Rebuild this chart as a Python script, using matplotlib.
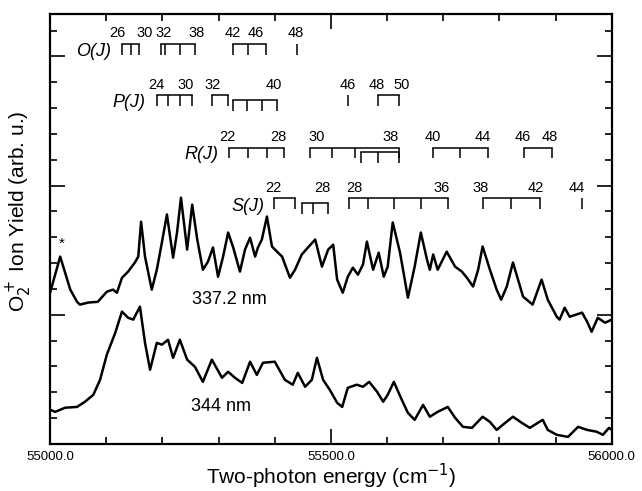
import matplotlib.pyplot as plt
from matplotlib.ticker import MultipleLocator

plt.rcParams['font.family'] = ['Liberation Sans', 'DejaVu Sans']

# O2+ ion yield, 337.2 nm excitation (energy cm^-1, yield arb. u.)
e_337 = [55000, 55018, 55036, 55048, 55053, 55068, 55085, 55101, 55112, 55119,
         55128, 55139, 55151, 55157, 55162, 55169, 55181, 55190, 55199, 55208,
         55219, 55226, 55233, 55244, 55253, 55262, 55272, 55281, 55290, 55299,
         55308, 55317, 55326, 55338, 55347, 55356, 55365, 55370, 55377, 55386,
         55395, 55404, 55413, 55427, 55436, 55448, 55459, 55472, 55484, 55495,
         55504, 55511, 55521, 55530, 55539, 55548, 55557, 55564, 55575, 55585,
         55594, 55601, 55610, 55623, 55637, 55649, 55660, 55671, 55676, 55682,
         55690, 55706, 55721, 55733, 55742, 55753, 55762, 55770, 55783, 55795,
         55803, 55813, 55824, 55833, 55842, 55859, 55875, 55886, 55902, 55907,
         55916, 55925, 55947, 55956, 55964, 55975, 55988, 56000]
y_337 = [5.85, 7.25, 5.97, 5.50, 5.39, 5.47, 5.50, 5.89, 5.97, 5.85,
         6.43, 6.67, 7.02, 7.25, 8.60, 7.25, 5.97, 6.74, 7.79, 8.88,
         7.21, 8.18, 9.53, 7.52, 9.26, 7.91, 6.74, 7.05, 7.60, 6.47,
         7.25, 8.18, 7.60, 6.67, 7.52, 7.98, 7.25, 7.60, 7.91, 8.80,
         7.64, 7.44, 7.25, 6.43, 6.74, 7.33, 7.60, 7.91, 6.86, 7.52,
         7.71, 6.36, 5.85, 6.47, 6.82, 6.55, 6.94, 7.83, 6.74, 7.40,
         6.47, 6.86, 8.57, 7.40, 5.66, 6.86, 8.18, 7.13, 6.74, 7.33,
         6.74, 7.44, 6.86, 6.67, 6.43, 6.09, 6.74, 7.64, 6.74, 5.97,
         5.58, 6.09, 7.02, 6.36, 5.70, 5.39, 6.36, 5.58, 4.92, 4.81,
         5.27, 4.92, 5.08, 4.73, 4.34, 4.88, 4.69, 4.81]

# O2+ ion yield, 344 nm excitation
e_344 = [55000, 55009, 55027, 55048, 55062, 55077, 55089, 55101, 55116, 55128,
         55139, 55148, 55160, 55169, 55178, 55190, 55199, 55210, 55219, 55231,
         55244, 55258, 55272, 55288, 55306, 55317, 55329, 55342, 55356, 55368,
         55379, 55400, 55418, 55432, 55441, 55454, 55466, 55475, 55486, 55498,
         55511, 55520, 55530, 55546, 55557, 55568, 55582, 55593, 55601, 55612,
         55626, 55637, 55649, 55664, 55676, 55690, 55708, 55721, 55735, 55751,
         55770, 55783, 55795, 55810, 55824, 55840, 55854, 55877, 55886, 55902,
         55922, 55940, 55956, 55973, 55984, 55995, 56000]
y_344 = [1.32, 1.24, 1.40, 1.43, 1.63, 1.90, 2.48, 3.45, 4.30, 5.12,
         4.88, 4.81, 5.31, 3.91, 2.87, 3.91, 3.84, 4.03, 3.33, 4.03,
         3.26, 2.98, 2.40, 3.26, 2.56, 2.79, 2.56, 2.36, 3.18, 2.67,
         3.14, 3.18, 2.48, 2.29, 2.75, 2.21, 2.48, 3.33, 2.48, 2.09,
         1.59, 1.43, 2.17, 2.29, 2.21, 2.40, 2.02, 1.63, 1.90, 2.40,
         1.71, 1.20, 0.93, 1.51, 1.05, 1.24, 1.43, 1.01, 0.66, 0.62,
         1.05, 0.85, 0.54, 0.81, 1.05, 0.81, 0.62, 0.93, 0.54, 0.35,
         0.27, 0.66, 0.54, 0.47, 0.35, 0.62, 0.54]

# rotational assignments: groups of line positions (cm^-1), sub = drawn lower
O_groups = [[55128, 55144, 55158], [55197, 55205, 55231, 55258],
            [55326, 55352, 55384], [55439]]
O_sub = []
O_labels = [('26', 55119), ('30', 55169), ('32', 55202), ('38', 55260),
            ('42', 55325), ('46', 55367), ('48', 55438)]

P_groups = [[55190, 55210, 55231, 55253], [55288, 55317], [55530], [55584, 55621]]
P_sub = [[55326, 55350, 55377, 55404]]
P_labels = [('24', 55190), ('30', 55242), ('32', 55290), ('40', 55398),
            ('46', 55530), ('48', 55582), ('50', 55626)]

R_groups = [[55318, 55352, 55386, 55416], [55463, 55502, 55543, 55621],
            [55681, 55729, 55779], [55843, 55893]]
R_sub = [[55553, 55584, 55621]]
R_labels = [('22', 55315), ('28', 55406), ('30', 55475), ('38', 55606),
            ('40', 55681), ('44', 55770), ('46', 55842), ('48', 55890)]

S_groups = [[55399, 55436], [55532, 55566, 55612, 55660, 55708],
            [55770, 55820, 55873], [55947]]
S_sub = [[55448, 55468, 55495]]
S_labels = [('22', 55397), ('28', 55485), ('28', 55541), ('36', 55697),
            ('38', 55767), ('42', 55865), ('44', 55938)]

rows = [('O(J)', 55078, 15.2, 15.47, O_groups, O_sub, O_labels),
        ('P(J)', 55141, 13.2, 13.49, P_groups, P_sub, P_labels),
        ('R(J)', 55270, 11.2, 11.47, R_groups, R_sub, R_labels),
        ('S(J)', 55352, 9.2, 9.50, S_groups, S_sub, S_labels)]

fig = plt.figure(figsize=(6.42, 4.91), dpi=100)
ax = fig.add_axes([0.078, 0.096, 0.875, 0.876])

ax.plot(e_337, y_337, color='black', lw=1.8)
ax.plot(e_344, y_344, color='black', lw=1.8)

tick_h = 0.42
for name, name_x, name_y, y0, groups, subs, labels in rows:
    ax.text(name_x, name_y, name, fontsize=13, style='italic', ha='center', va='center')
    for g in groups:
        ax.plot([g[0], g[-1]], [y0, y0], color='black', lw=1.1)
        ax.vlines(g, y0 - tick_h, y0, color='black', lw=1.1)
    for g in subs:
        ax.plot([g[0], g[-1]], [y0 - 0.17, y0 - 0.17], color='black', lw=1.1)
        ax.vlines(g, y0 - 0.17 - tick_h, y0 - 0.17, color='black', lw=1.1)
    for txt, xe in labels:
        ax.text(xe, y0 + 0.15, txt, fontsize=10.5, ha='center', va='bottom')

ax.text(55020, 7.75, '*', fontsize=11, ha='center', va='center')
ax.text(55320, 5.6, '337.2 nm', fontsize=13, ha='center', va='center')
ax.text(55305, 1.44, '344 nm', fontsize=13, ha='center', va='center')

ax.set_xlim(55000, 56000)
ax.set_ylim(0, 16.65)
ax.set_xticks([55000, 55500, 56000])
ax.set_xticklabels(['55000.0', '55500.0', '56000.0'])
ax.xaxis.set_minor_locator(MultipleLocator(100))
ax.yaxis.set_major_locator(MultipleLocator(5))
ax.yaxis.set_minor_locator(MultipleLocator(1))
ax.set_yticklabels([])
ax.tick_params(which='both', direction='in', top=True, right=True, width=1.2)
ax.tick_params(which='major', length=11, labelsize=9.5, pad=5)
ax.tick_params(which='minor', length=5)
for s in ax.spines.values():
    s.set_linewidth(1.6)

ax.set_xlabel('Two-photon energy (cm$^{-1}$)', fontsize=15, va='center')
ax.xaxis.set_label_coords(0.5, -0.075)
ax.set_ylabel('O$_2^+$ Ion Yield (arb. u.)', fontsize=15, va='center')
ax.yaxis.set_label_coords(-0.054, 0.54)

fig.savefig('out.png', dpi=100)
